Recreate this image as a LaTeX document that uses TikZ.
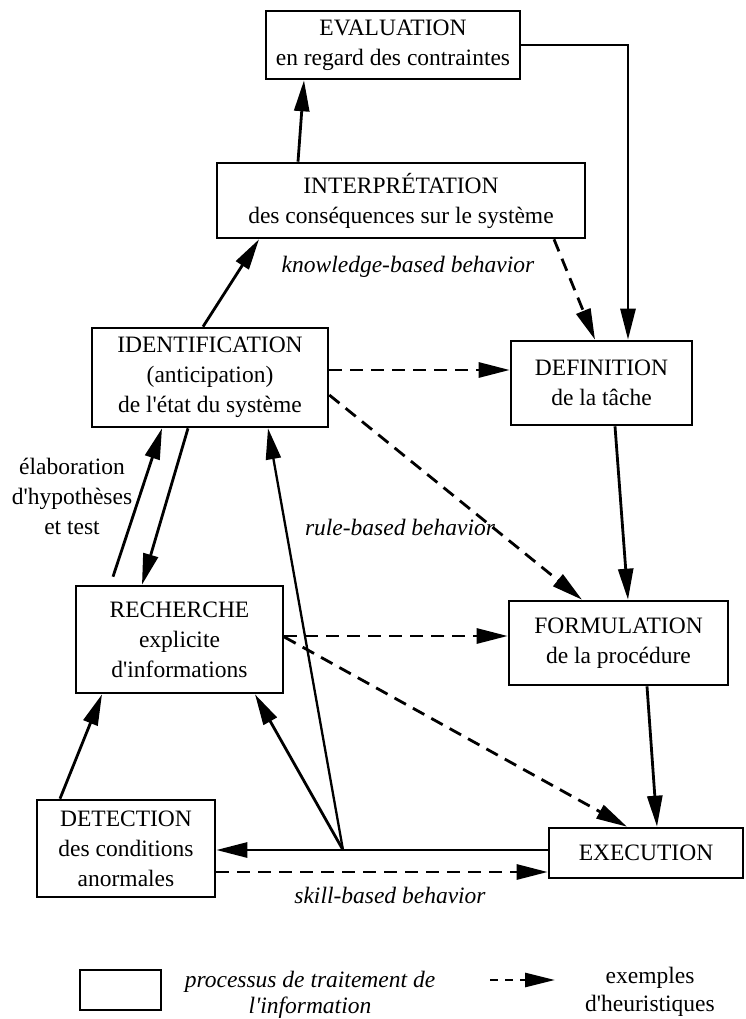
\documentclass[tikz,border=0pt]{standalone}
\usepackage{fontspec}
\setmainfont{Liberation Serif}[Ligatures=TeXOff]
\usetikzlibrary{arrows.meta}

\begin{document}
\begin{tikzpicture}[x=1pt,y=-1pt,
  proc/.style={draw, line width=2.6pt, align=center, inner sep=2pt,
               font=\fontsize{23.5}{30}\selectfont},
  flow/.style={line width=2.8pt, -{Triangle[length=31pt,width=15pt]}},
  heur/.style={flow, dash pattern=on 13pt off 8pt},
  link/.style={line width=2.8pt},
  tag/.style={font=\fontsize{23.5}{30}\selectfont\itshape, align=center},
  sidenote/.style={font=\fontsize{23.5}{30}\selectfont, align=center}]

\useasboundingbox (0,0) rectangle (745,1019);

% information processing steps
\node[proc, minimum width=254pt, minimum height=68pt] (eval) at (393,45)
  {EVALUATION\\en regard des contraintes};
\node[proc, minimum width=368pt, minimum height=75pt] (interp) at (401,200.5)
  {INTERPRÉTATION\\des conséquences sur le système};
\node[proc, minimum width=236pt, minimum height=99pt] (ident) at (210,377.5)
  {IDENTIFICATION\\(anticipation)\\de l'état du système};
\node[proc, minimum width=181pt, minimum height=84pt] (def) at (601.5,383)
  {DEFINITION\\de la tâche};
\node[proc, minimum width=207pt, minimum height=107pt] (rech) at (179.5,639.5)
  {RECHERCHE\\explicite\\d'informations};
\node[proc, minimum width=219pt, minimum height=84pt] (form) at (618.5,643)
  {FORMULATION\\de la procédure};
\node[proc, minimum width=178pt, minimum height=97pt] (det) at (126,848.5)
  {DETECTION\\des conditions\\anormales};
\node[proc, minimum width=194pt, minimum height=50pt] (exec) at (646,853)
  {EXECUTION};

% behaviour levels and side note
\node[tag] (kb) at (408,267) {knowledge-based behavior};
\node[tag] (rb) at (400,527) {rule-based behavior};
\node[tag] (sb) at (390,895) {skill-based behavior};
\node[sidenote] (elab) at (72,496) {élaboration\\d'hypothèses\\et test};

% main processing links
\draw[flow] ([xshift=-103pt]interp.north) -- ([xshift=-89pt]eval.south);
\draw[flow] (eval.east) -| ([xshift=26.5pt]def.north);
\draw[flow] ([xshift=-7pt]ident.north) -- ([xshift=-142pt]interp.south);
\draw[flow] ([xshift=13.5pt]def.south) -- ([xshift=9.5pt]form.north);
\draw[flow] ([xshift=-66.5pt,yshift=8pt]rech.north) -- ([xshift=-48pt]ident.south);
\draw[flow] ([xshift=-22pt]ident.south) -- ([xshift=-37.5pt]rech.north);
\draw[flow] ([xshift=-66pt]det.north) -- ([xshift=-77.5pt]rech.south);
\draw[flow] ([xshift=28.5pt]form.south) -- ([xshift=11pt]exec.north);

% feedback from execution
\coordinate (J) at (343,850);
\draw[link] ([yshift=3pt]exec.west) -- (J);
\draw[flow] (J) -- (J -| det.east);
\draw[flow] (J) -- ([xshift=75.5pt]rech.south);
\draw[flow, line width=2.3pt] (J) -- ([xshift=58pt]ident.south);

% heuristic shortcuts
\draw[heur] ([xshift=153pt]interp.south) -- ([xshift=-6.5pt]def.north);
\draw[heur] ([yshift=7.5pt]ident.east) -- ([yshift=7.5pt]ident.east -| def.west);
\draw[heur] ([yshift=-17.5pt]ident.east) -- ([xshift=-36.5pt]form.north);
\draw[heur] ([yshift=3.5pt]rech.east) -- ([yshift=3.5pt]rech.east -| form.west);
\draw[heur] ([yshift=2.5pt]rech.east) -- ([xshift=-19pt]exec.north);
\draw[heur] ([yshift=-23.5pt]det.east) -- ([yshift=-23.5pt]det.east -| exec.west);

% legend
\node[proc, minimum width=81pt, minimum height=40pt] (legbox) at (120.5,990) {};
\node[tag, font=\fontsize{23.5}{26}\selectfont\itshape] (legproc) at (310,995)
  {processus de traitement de\\l'information};
\coordinate (legA) at (490,980);
\coordinate (legB) at (555,980);
\draw[heur, dash pattern=on 8pt off 7pt, -{Triangle[length=30pt,width=14pt]}] (legA) -- (legB);
\node[sidenote, font=\fontsize{23.5}{28}\selectfont] (legheur) at (650,992)
  {exemples\\d'heuristiques};
\end{tikzpicture}
\end{document}
